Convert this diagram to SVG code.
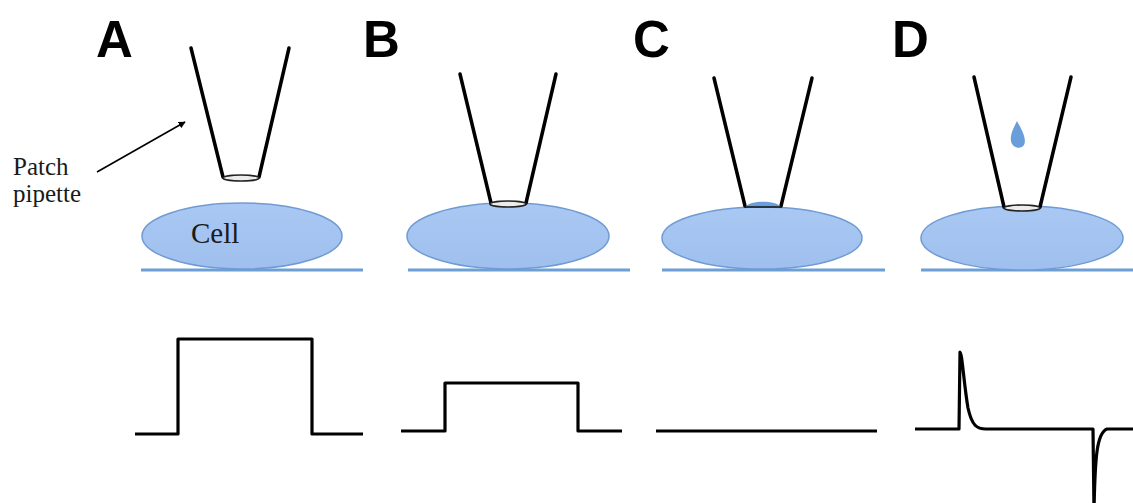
<svg xmlns="http://www.w3.org/2000/svg" width="1133" height="503" viewBox="0 0 1133 503">
  <style>
    .label { font-family: "Liberation Sans", Arial, sans-serif; font-weight: bold; font-size: 51px; fill: #000; }
    .serif { font-family: "Liberation Serif", "Times New Roman", serif; fill: #1a1a1a; }
    .glass { stroke: #000; stroke-width: 3.5; stroke-linecap: round; fill: none; }
    .tip { fill: #ececec; stroke: #222; stroke-width: 1.6; }
    .cell { fill: url(#cellFill); stroke: #6f9bd3; stroke-width: 1.5; }
    .dish { stroke: #6d9fd6; stroke-width: 3; fill: none; }
    .trace { stroke: #000; stroke-width: 3.2; fill: none; stroke-linejoin: round; }
    .blue { fill: #6a9edb; }
  </style>
  <defs>
    <linearGradient id="cellFill" x1="0" y1="0" x2="0" y2="1">
      <stop offset="0" stop-color="#a9c8f3"/>
      <stop offset="1" stop-color="#9fbfee"/>
    </linearGradient>
    <marker id="arrowHead" viewBox="0 0 10 10" refX="9" refY="5" markerWidth="7" markerHeight="7" orient="auto" markerUnits="userSpaceOnUse">
      <path d="M0,0 L10,5 L0,10 Z" fill="#000"/>
    </marker>
  </defs>

  <rect width="1133" height="503" fill="#fff"/>

  <!-- Panel A: pipette approaching the cell -->
  <g id="panel-a">
    <text class="label" x="96" y="57">A</text>
    <line class="dish" x1="141" y1="270" x2="363" y2="270"/>
    <ellipse class="cell" cx="242" cy="236" rx="100" ry="33"/>
    <text class="serif" x="191" y="243" font-size="29">Cell</text>
    <line class="glass" x1="191" y1="48" x2="223" y2="177"/>
    <line class="glass" x1="289" y1="48" x2="259" y2="177"/>
    <ellipse class="tip" cx="241" cy="178" rx="18" ry="3"/>
  </g>

  <!-- Pipette caption -->
  <g id="caption">
    <text class="serif" x="13" y="175" font-size="25">Patch</text>
    <text class="serif" x="13" y="202" font-size="25">pipette</text>
  </g>

  <!-- Panel B: pipette sealed on the membrane -->
  <g id="panel-b">
    <text class="label" x="363" y="57">B</text>
    <line class="dish" x1="408" y1="270" x2="630" y2="270"/>
    <ellipse class="cell" cx="508" cy="236" rx="101" ry="33"/>
    <line class="glass" x1="460" y1="74" x2="491" y2="203"/>
    <line class="glass" x1="556" y1="74" x2="526" y2="203"/>
    <ellipse class="tip" cx="508" cy="204" rx="18" ry="3"/>
  </g>

  <!-- Panel C: gigaseal with membrane drawn into the tip -->
  <g id="panel-c">
    <text class="label" x="633" y="57">C</text>
    <line class="dish" x1="662" y1="270" x2="885" y2="270"/>
    <ellipse class="cell" cx="762" cy="238" rx="100" ry="31"/>
    <line class="glass" x1="714" y1="78" x2="745" y2="206"/>
    <line class="glass" x1="812" y1="78" x2="781" y2="206"/>
    <path class="blue" d="M745,207 C750,200 776,200 781,207 Z"/>
    <line x1="745" y1="207" x2="781" y2="207" stroke="#111" stroke-width="1.6"/>
  </g>

  <!-- Panel D: membrane patch excised, droplet inside pipette -->
  <g id="panel-d">
    <text class="label" x="892" y="57">D</text>
    <line class="dish" x1="921" y1="270" x2="1133" y2="270"/>
    <ellipse class="cell" cx="1022" cy="238" rx="101" ry="32"/>
    <line class="glass" x1="974" y1="77" x2="1004" y2="207"/>
    <line class="glass" x1="1071" y1="77" x2="1040" y2="207"/>
    <ellipse class="tip" cx="1022" cy="208" rx="18" ry="3"/>
    <path class="blue" d="M1017,121 C1013,129 1010,135 1011,141 C1012,148 1021,150 1024,145 C1027,139 1022,130 1017,121 Z"/>
  </g>

  <!-- Connectors and current traces -->
  <g id="connectors">
    <line x1="97" y1="172" x2="185" y2="122" stroke="#000" stroke-width="1.6" marker-end="url(#arrowHead)"/>
    <path class="trace" d="M135,434 H178 V339 H312 V434 H363"/>
    <path class="trace" d="M401,431 H445 V383 H578 V431 H622"/>
    <path class="trace" d="M656,431 H877"/>
    <path class="trace" d="M915,429 H959 L960,352 C962,352 964,385 968,408 C972,426 977,429 986,429 H1093 L1094,512 C1095,455 1097,433 1107,429 H1133"/>
  </g>
</svg>
